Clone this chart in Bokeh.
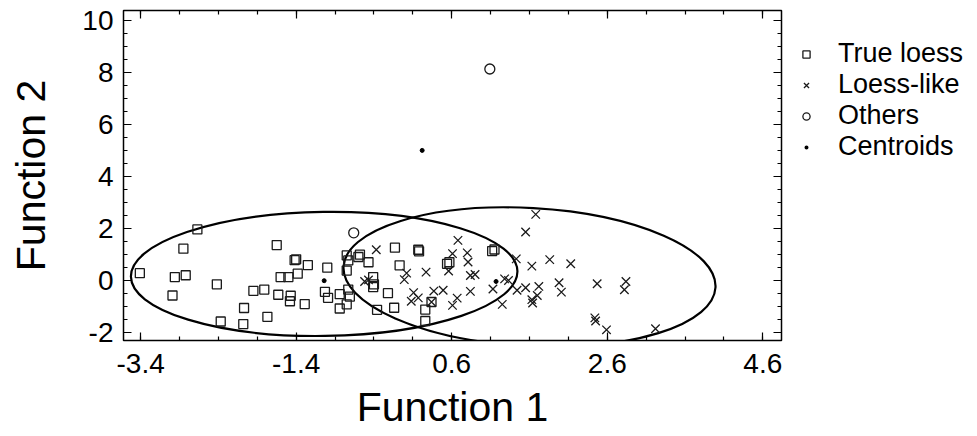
import numpy as np
from bokeh.plotting import figure
from bokeh.layouts import row
from bokeh.models import (Range1d, LinearAxis, FixedTicker, Legend, LegendItem,
                          CustomJSTickFormatter)
from bokeh.embed import file_html
from bokeh.resources import INLINE

# ---- data ----
true_x = [-3.41, -2.67, -2.85, -2.96, -2.82, -2.99, -2.42, -2.37, -1.65, -1.42,
          -1.40, -1.25, -1.00, -1.60, -1.50, -1.38, -1.95, -1.81, -1.63, -1.47,
          -1.48, -1.29, -2.07, -1.77, -2.08, -1.03, -0.99, -0.84, -0.84, -0.75,
          -0.73, -0.58, -0.60, -0.47, -0.75, -0.41, -0.40, -0.41, -0.73, -0.71,
          -0.75, -0.22, -0.36, -0.14, -0.13, 0.17, 0.18, -0.07, 0.26, 0.26,
          0.34, 0.54, 0.57, 1.12, 1.15]
true_y = [0.28, 1.96, 1.22, 0.13, 0.20, -0.58, -0.15, -1.58, 1.36, 0.78,
          0.81, 0.59, 0.49, 0.13, 0.13, 0.26, -0.40, -0.35, -0.55, -0.59,
          -0.80, -0.91, -1.06, -1.40, -1.68, -0.44, -0.67, -0.53, -1.08, 0.96,
          0.77, 0.99, 0.90, 0.70, 0.38, 0.13, -0.15, -0.26, -0.35, -0.62,
          -0.92, -0.49, -1.13, -1.05, 1.26, 1.18, 1.12, 0.58, -1.12, -1.56,
          -0.83, 0.64, 0.70, 1.13, 1.19]

like_x = [-0.37, -0.52, -0.47, 0.02, -0.01, 0.27, 0.11, 0.17, 0.08, 0.37,
          0.49, 0.34, 0.68, 0.61, 0.80, 0.81, 0.56, 0.84, 0.90, 0.84,
          0.67, 0.61, 1.13, 1.25, 1.28, 1.33, 1.43, 1.55, 1.68, 1.63,
          1.86, 1.44, 1.55, 1.72, 1.70, 1.63, 1.64, 1.98, 2.01, 2.13,
          2.47, 2.84, 2.82, 2.44, 2.45, 2.59, 3.22]
like_y = [1.18, -0.04, 0.02, 0.28, 0.03, 0.32, -0.47, -0.67, -0.80, -0.41,
          -0.38, -0.83, 1.54, 1.03, 1.06, 0.71, 0.36, 0.19, 0.23, -0.42,
          -0.68, -0.96, -0.33, -0.92, 0.06, 0.00, 0.83, 1.86, 2.54, 0.55,
          0.80, -0.38, -0.28, -0.23, -0.58, -0.74, -0.87, -0.09, -0.45, 0.64,
          -0.13, -0.04, -0.36, -1.44, -1.56, -1.90, -1.86]

other_x = [-0.66, 1.09]
other_y = [1.83, 8.13]

cent_x = [-1.04, 1.17, 0.22]
cent_y = [-0.01, -0.04, 5.00]

# group ellipses (centre, full width, full height in data units, tilt)
ell_x = [-1.04, 1.60]
ell_y = [0.25, 0.13]
ell_w = [4.97, 4.79]
ell_h = [4.77, 5.31]
ell_angle = [0.014, -0.056]

legend_labels = ["True loess", "Loess-like", "Others", "Centroids"]
x_major = [-3.4, -1.4, 0.6, 2.6, 4.6]
y_major = [-2, 0, 2, 4, 6, 8, 10]

FONT = "Liberation Sans"
INK = "#1a1a1a"

p = figure(width=790, height=436, output_backend="svg", toolbar_location=None,
           x_range=Range1d(-3.62, 4.84), y_range=Range1d(-2.31, 10.38),
           min_border_left=123, min_border_right=9, min_border_top=10,
           min_border_bottom=96, background_fill_color="white",
           border_fill_color="white")
p.grid.visible = False
p.outline_line_color = "black"
p.outline_line_width = 1.5

x_minor = list(np.round(np.arange(-3.9, 5.0, 0.5), 2))
y_minor = list(np.round(np.arange(-2.5, 10.6, 0.5), 2))
xt = FixedTicker(ticks=x_major, minor_ticks=x_minor)
yt = FixedTicker(ticks=y_major, minor_ticks=y_minor)


def style(ax, labels=True):
    ax.axis_line_color = None
    ax.major_tick_in = 8
    ax.major_tick_out = 0
    ax.minor_tick_in = 4
    ax.minor_tick_out = 0
    ax.major_tick_line_color = "black"
    ax.minor_tick_line_color = "black"
    ax.major_tick_line_width = 1.2
    ax.minor_tick_line_width = 1.2
    if labels:
        ax.major_label_text_font = FONT
        ax.major_label_text_font_size = "28px"
        ax.major_label_text_color = "black"
        ax.axis_label_text_font = FONT
        ax.axis_label_text_font_size = "41px"
        ax.axis_label_text_font_style = "normal"
        ax.axis_label_text_color = "black"
    else:
        ax.formatter = CustomJSTickFormatter(code="return '';")
        ax.major_label_standoff = 0
        ax.axis_label = None


p.xaxis.ticker = xt
p.yaxis.ticker = yt
p.xaxis.axis_label = "Function 1"
p.yaxis.axis_label = "Function 2"
style(p.xaxis[0])
style(p.yaxis[0])
p.xaxis.formatter = CustomJSTickFormatter(code="return tick.toFixed(1);")
p.yaxis.formatter = CustomJSTickFormatter(code="return tick.toFixed(0);")
p.xaxis.major_label_standoff = 13
p.xaxis.axis_label_standoff = 8
p.yaxis.major_label_standoff = 10
p.yaxis.axis_label_standoff = 25

ax_top = LinearAxis(ticker=xt)
style(ax_top, labels=False)
p.add_layout(ax_top, "above")
ax_right = LinearAxis(ticker=yt)
style(ax_right, labels=False)
p.add_layout(ax_right, "right")

p.ellipse(x=ell_x, y=ell_y, width=ell_w, height=ell_h, angle=ell_angle,
          fill_color=None, line_color="black", line_width=2.2)

SQ = dict(marker="square", fill_color=None, line_color=INK, line_width=1.3)
XX = dict(marker="x", line_color=INK, line_width=1.3)
CI = dict(marker="circle", fill_color=None, line_color=INK, line_width=1.3)

p.scatter(true_x, true_y, size=9, **SQ)
p.scatter(like_x, like_y, size=12, **XX)
p.scatter(other_x, other_y, size=10, **CI)
p.scatter(cent_x, cent_y, size=4, marker="circle", fill_color="black",
          line_color="black")

# ---- legend panel (separate canvas to the right of the plot frame) ----
q = figure(width=187, height=436, output_backend="svg", toolbar_location=None,
           x_range=Range1d(0, 1), y_range=Range1d(0, 1),
           min_border=0, outline_line_color=None,
           background_fill_color="white", border_fill_color="white")
q.axis.visible = False
q.grid.visible = False
# stand-in renderers (their single point lies outside this panel's view)
far = [-10.0]
lr = [q.scatter(far, far, **SQ),
      q.scatter(far, far, **XX),
      q.scatter(far, far, **CI),
      q.scatter(far, far, marker="circle", fill_color="black",
                line_color="white", line_width=3.2)]
legend = Legend(items=[LegendItem(label=lab, renderers=[r])
                       for lab, r in zip(legend_labels, lr)],
                location=(7, 178), margin=0, padding=0, spacing=0,
                glyph_width=18, glyph_height=30, label_standoff=23,
                label_text_font=FONT, label_text_font_size="27px",
                label_text_color="black", border_line_color=None,
                background_fill_alpha=0)
q.add_layout(legend, "center")

layout = row(p, q, spacing=0)
open("out.html", "w").write(file_html(layout, INLINE))
